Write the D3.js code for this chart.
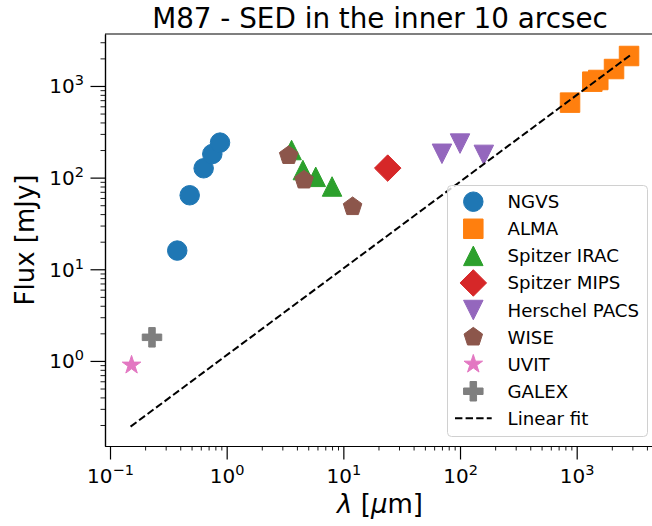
<!DOCTYPE html>
<html>
<head>
<meta charset="utf-8">
<script src="https://cdn.jsdelivr.net/npm/d3@7"></script>
<style>
  body { margin: 0; background: #fff; }
  svg { display: block; font-family: "DejaVu Sans", sans-serif; }
</style>
</head>
<body>
<svg id="chart" width="652" height="526"></svg>
<script>
// Spectral energy distribution of M87, wavelength in micron, flux in mJy
const ngvsLambda  = [0.377, 0.482, 0.635, 0.753, 0.877];
const ngvsFlux    = [16.0, 64.2, 126.5, 181, 241];
const almaLambda  = [877, 1361, 1531, 2089, 2810];
const almaFlux    = [658, 1114, 1162, 1531, 2123];
const iracLambda  = [3.6, 4.5, 5.8, 8.0];
const iracFlux    = [200, 121, 102, 80];
const mipsLambda  = [24];
const mipsFlux    = [127];
const pacsLambda  = [70, 100, 160];
const pacsFlux    = [182, 235, 177];
const wiseLambda  = [3.4, 4.6, 12];
const wiseFlux    = [174, 94, 48.2];
const uvitLambda  = [0.153];
const uvitFlux    = [0.90];
const galexLambda = [0.229];
const galexFlux   = [1.81];
// power-law fit evaluated at the ends of the covered wavelength range
const fitLambda   = [0.150, 2900];
const fitFlux     = [0.192, 2180];

const xTickExps = [-1, 0, 1, 2, 3];
const yTickExps = [0, 1, 2, 3];

const series = [
  { name: "NGVS",          lam: ngvsLambda,  flux: ngvsFlux,  shape: "circle",  color: "#1f77b4" },
  { name: "ALMA",          lam: almaLambda,  flux: almaFlux,  shape: "square",  color: "#ff7f0e" },
  { name: "Spitzer IRAC",  lam: iracLambda,  flux: iracFlux,  shape: "triUp",   color: "#2ca02c" },
  { name: "Spitzer MIPS",  lam: mipsLambda,  flux: mipsFlux,  shape: "diamond", color: "#d62728" },
  { name: "Herschel PACS", lam: pacsLambda,  flux: pacsFlux,  shape: "triDown", color: "#9467bd" },
  { name: "WISE",          lam: wiseLambda,  flux: wiseFlux,  shape: "pentagon",color: "#8c564b" },
  { name: "UVIT",          lam: uvitLambda,  flux: uvitFlux,  shape: "star",    color: "#e377c2" },
  { name: "GALEX",         lam: galexLambda, flux: galexFlux, shape: "plus",    color: "#7f7f7f" }
];

const svg = d3.select("#chart");
const M = { left: 105, top: 34, bottom: 446, right: 655 };

const x = d3.scaleLog().domain([0.0906, 4690]).range([M.left, M.right]);
const y = d3.scaleLog().domain([0.118, 3690]).range([M.bottom, M.top]);

// marker outlines in the style of the matplotlib marker set
function markerPath(shape, s) {
  const r = s / 2;
  const p = d3.path();
  const poly = pts => { pts.forEach((q, i) => i ? p.lineTo(q[0], q[1]) : p.moveTo(q[0], q[1])); p.closePath(); };
  switch (shape) {
    case "circle": p.arc(0, 0, r, 0, 2 * Math.PI); break;
    case "square": p.rect(-r, -r, s, s); break;
    case "triUp": poly([[0, -r], [r, r], [-r, r]]); break;
    case "triDown": poly([[0, r], [r, -r], [-r, -r]]); break;
    case "diamond": { const h = 0.68 * s; poly([[0, -h], [h, 0], [0, h], [-h, 0]]); break; }
    case "pentagon": poly(d3.range(5).map(i => { const a = -Math.PI / 2 + i * 2 * Math.PI / 5; return [r * Math.cos(a), r * Math.sin(a)]; })); break;
    case "star": poly(d3.range(10).map(i => { const a = -Math.PI / 2 + i * Math.PI / 5; const rr = i % 2 ? r * 0.381966 : r; return [rr * Math.cos(a), rr * Math.sin(a)]; })); break;
    case "plus": { const u = s / 6; poly([[-u, -3 * u], [u, -3 * u], [u, -u], [3 * u, -u], [3 * u, u], [u, u], [u, 3 * u], [-u, 3 * u], [-u, u], [-3 * u, u], [-3 * u, -u], [-u, -u]]); break; }
  }
  return p.toString();
}

const MS = 19.5;

// axes: ticks
function supLabel(sel, exp) {
  sel.text(null);
  sel.append("tspan").text("10");
  sel.append("tspan").attr("dy", -8).attr("font-size", 14.5).text(exp < 0 ? "\u2212" + (-exp) : String(exp));
}

function minorValues(scale) {
  const [a, b] = scale.domain();
  const out = [];
  for (let e = Math.floor(Math.log10(a)); e <= Math.ceil(Math.log10(b)); e++)
    for (let m = 2; m <= 9; m++) { const v = m * Math.pow(10, e); if (v >= a && v <= b) out.push(v); }
  return out;
}

const gx = svg.append("g").attr("transform", `translate(0,${M.bottom})`);
gx.call(d3.axisBottom(x).tickValues(minorValues(x)).tickSize(4.5).tickSizeOuter(0).tickFormat(""));
gx.call(g => g.selectAll(".tick line").attr("stroke-width", 0.9));
const gx2 = svg.append("g").attr("transform", `translate(0,${M.bottom})`);
gx2.call(d3.axisBottom(x).tickValues(xTickExps.map(e => Math.pow(10, e))).tickSize(13.5).tickSizeOuter(0));
gx2.selectAll(".tick line").attr("stroke-width", 1.2);
gx2.selectAll(".tick text").attr("font-size", 20).attr("font-family", "DejaVu Sans").attr("fill", "#000")
  .attr("y", 37).attr("dy", 0).each(function (d) { supLabel(d3.select(this), Math.round(Math.log10(d))); });

const gy = svg.append("g").attr("transform", `translate(${M.left},0)`);
gy.call(d3.axisLeft(y).tickValues(minorValues(y)).tickSize(4.5).tickSizeOuter(0).tickFormat(""));
gy.call(g => g.selectAll(".tick line").attr("stroke-width", 0.9));
const gy2 = svg.append("g").attr("transform", `translate(${M.left},0)`);
gy2.call(d3.axisLeft(y).tickValues(yTickExps.map(e => Math.pow(10, e))).tickSize(14.5).tickSizeOuter(0));
gy2.selectAll(".tick line").attr("stroke-width", 1.2);
gy2.selectAll(".tick text").attr("font-size", 20).attr("font-family", "DejaVu Sans").attr("fill", "#000")
  .attr("x", -21).attr("dy", 7).each(function (d) { supLabel(d3.select(this), Math.round(Math.log10(d))); });

svg.selectAll(".domain").attr("stroke-width", 1.2);
// top spine
svg.append("line").attr("x1", M.left).attr("x2", M.right).attr("y1", M.top).attr("y2", M.top)
  .attr("stroke", "#000").attr("stroke-width", 1.2);

// data markers
const clip = svg.append("clipPath").attr("id", "plotclip").append("rect")
  .attr("x", M.left).attr("y", M.top).attr("width", M.right - M.left).attr("height", M.bottom - M.top);
const plot = svg.append("g").attr("clip-path", "url(#plotclip)");

series.forEach(s => {
  plot.append("g").selectAll("path")
    .data(s.lam.map((l, i) => [l, s.flux[i]]))
    .join("path")
    .attr("transform", d => `translate(${x(d[0])},${y(d[1])})`)
    .attr("d", markerPath(s.shape, MS))
    .attr("fill", s.color).attr("stroke", s.color).attr("stroke-width", 1);
});

const fitLine = d3.line().x(d => x(d[0])).y(d => y(d[1]));
plot.append("path").datum(fitLambda.map((l, i) => [l, fitFlux[i]]))
  .attr("d", fitLine).attr("fill", "none").attr("stroke", "#000")
  .attr("stroke-width", 2).attr("stroke-dasharray", "7.4,3.2");

// legend
const lg = svg.append("g");
lg.append("rect").attr("x", 447.5).attr("y", 185.5).attr("width", 200).attr("height", 251)
  .attr("rx", 4).attr("fill", "#fff").attr("fill-opacity", 0.8).attr("stroke", "#d0d0d0").attr("stroke-width", 1);
const rowY = i => 201.7 + i * 27.08;
series.forEach((s, i) => {
  lg.append("path").attr("transform", `translate(473.3,${rowY(i)})`)
    .attr("d", markerPath(s.shape, MS)).attr("fill", s.color).attr("stroke", s.color).attr("stroke-width", 1);
  lg.append("text").attr("x", 507.5).attr("y", rowY(i) + 6.5).attr("font-size", 18.2).text(s.name);
});
lg.append("line").attr("x1", 455).attr("x2", 491.7).attr("y1", rowY(8)).attr("y2", rowY(8))
  .attr("stroke", "#000").attr("stroke-width", 2).attr("stroke-dasharray", "7.4,3.2");
lg.append("text").attr("x", 507.5).attr("y", rowY(8) + 6.5).attr("font-size", 18.2).text("Linear fit");

// titles
svg.append("text").attr("x", (M.left + M.right) / 2).attr("y", 27.5).attr("text-anchor", "middle").attr("font-size", 27.8)
  .text("M87 - SED in the inner 10 arcsec");
const xl = svg.append("text").attr("x", (M.left + M.right) / 2).attr("y", 513).attr("text-anchor", "middle").attr("font-size", 26);
xl.append("tspan").attr("font-style", "italic").text("\u03bb");
xl.append("tspan").text(" [");
xl.append("tspan").attr("font-style", "italic").text("\u03bc");
xl.append("tspan").text("m]");
svg.append("text").attr("transform", `translate(34,${(M.top + M.bottom) / 2}) rotate(-90)`)
  .attr("text-anchor", "middle").attr("font-size", 26).text("Flux [mJy]");
</script>
</body>
</html>
